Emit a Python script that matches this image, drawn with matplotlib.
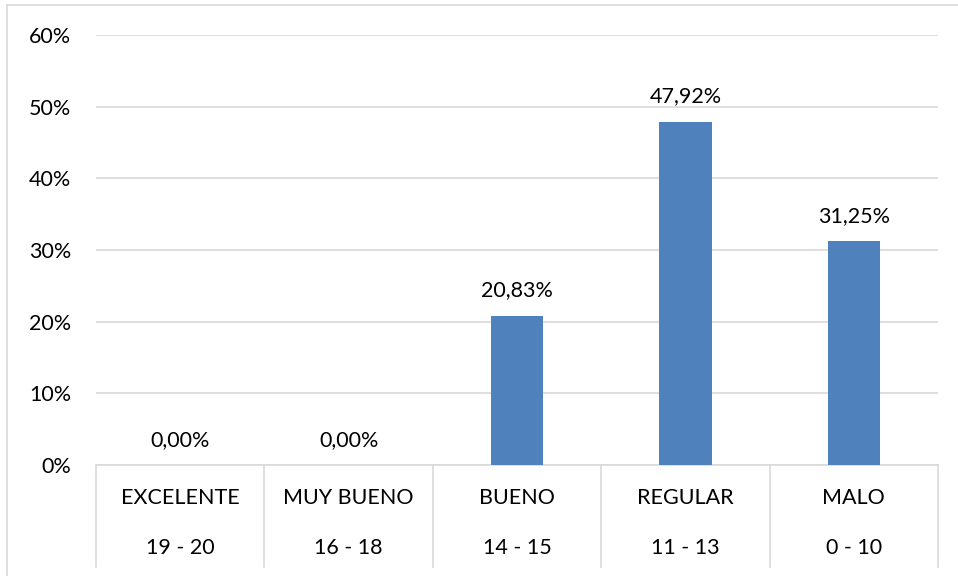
import matplotlib.pyplot as plt
from matplotlib.lines import Line2D
import matplotlib.transforms as mtransforms

plt.rcParams['font.family'] = ['Lato', 'DejaVu Sans']

niveles = ["EXCELENTE", "MUY BUENO", "BUENO", "REGULAR", "MALO"]
rangos = ["19 - 20", "16 - 18", "14 - 15", "11 - 13", "0 - 10"]
porcentajes = [0.0, 0.0, 20.83, 47.92, 31.25]

W, H = 958, 576
fig = plt.figure(figsize=(W / 100, H / 100), dpi=100)
ax = fig.add_axes([96 / W, (H - 465) / H, (938 - 96) / W, (465 - 35) / H])

x = range(len(niveles))
bars = ax.bar(x, porcentajes, width=0.31, color="#4F81BD", zorder=3)

fs = 15.5
ax.set_ylim(0, 60)
ax.set_xlim(-0.5, len(niveles) - 0.5)
ax.set_yticks(range(0, 61, 10))
ax.set_yticklabels([f"{v}%" for v in range(0, 61, 10)], fontsize=fs)
ax.tick_params(axis="y", length=0, pad=18)
ax.tick_params(axis="x", length=0, labelbottom=False)
ax.yaxis.grid(True, color="#D9D9D9", linewidth=1.2, zorder=0)
for s in ["top", "right", "left"]:
    ax.spines[s].set_visible(False)
ax.spines["bottom"].set_color("#D9D9D9")
ax.spines["bottom"].set_linewidth(1.2)

for i, v in enumerate(porcentajes):
    ax.annotate(f"{v:.2f}%".replace(".", ","), (i, v), xytext=(0, 11),
                textcoords="offset points", ha="center", va="bottom", fontsize=fs)

# category table below the axis
trans = mtransforms.blended_transform_factory(ax.transData, ax.transAxes)
bottom = -(567 - 465) / 430
for k in range(len(niveles) + 1):
    ax.add_line(Line2D([k - 0.5, k - 0.5], [0, bottom], transform=trans,
                       color="#D9D9D9", linewidth=1.2, clip_on=False))
for i in x:
    ax.text(i, -(498 - 465) / 430, niveles[i], transform=trans, ha="center",
            va="center", fontsize=fs)
    ax.text(i, -(548 - 465) / 430, rangos[i], transform=trans, ha="center",
            va="center", fontsize=fs)

# outer chart border
fig.add_artist(Line2D([7 / W, 7 / W], [0, 1 - 5 / H], transform=fig.transFigure,
                      color="#D9D9D9", linewidth=1.2))
fig.add_artist(Line2D([7 / W, 1], [1 - 5 / H, 1 - 5 / H], transform=fig.transFigure,
                      color="#D9D9D9", linewidth=1.2))

fig.savefig("out.png", dpi=100)
